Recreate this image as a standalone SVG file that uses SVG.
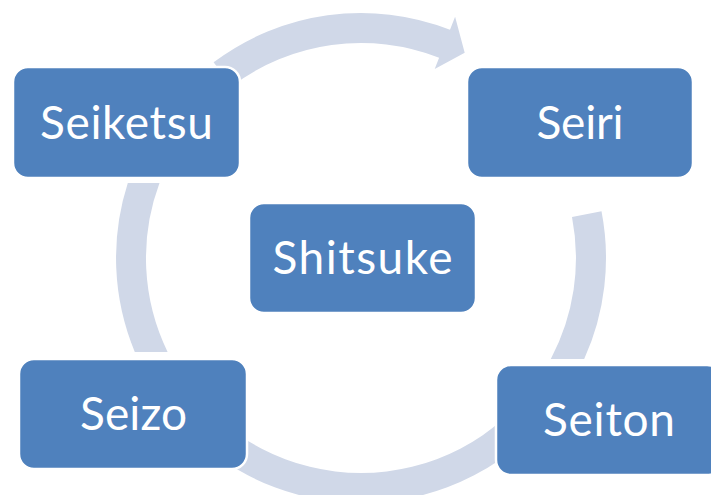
<svg xmlns="http://www.w3.org/2000/svg" width="711" height="495" viewBox="0 0 711 495">
  <style>
    .ring { fill: #D0D8E8; stroke: none; }
    .box { fill: #4F81BD; stroke: #FFFFFF; stroke-width: 2.5; }
    .label { fill: #FFFFFF; font-family: Lato, "Liberation Sans", sans-serif; font-size: 46px; text-anchor: middle; }
  </style>
  <rect width="711" height="495" fill="#FFFFFF"/>

  <!-- cycle ring segments, centre (361,258), radii 215..245 -->
  <g id="connectors">
    <!-- Seiketsu to Seiri, with arrowhead -->
    <path id="arrow-top" class="ring" d="M 213.6,62.3 A 245 245 0 0 1 450.0,29.7 L 455.1,16.7 L 464.7,52.7 L 434.7,68.9 L 439.1,57.7 A 215 215 0 0 0 231.6,86.3 Z"/>
    <!-- Seiri to Seiton -->
    <path id="arc-right" class="ring" d="M 601.5,211.3 A 245 245 0 0 1 584.2,359 L 550.8,359 A 215 215 0 0 0 572.0,217.0 Z"/>
    <!-- Seiton to Seizo -->
    <path id="arc-bottom" class="ring" d="M 561.7,398.5 A 245 245 0 0 1 160.3,398.5 L 184.9,381.3 A 215 215 0 0 0 537.1,381.3 Z"/>
    <!-- Seizo to Seiketsu -->
    <path id="arc-left" class="ring" d="M 134.8,352 A 245 245 0 0 1 127.8,183 L 159.5,183 A 215 215 0 0 0 167.6,352 Z"/>
  </g>

  <g id="node-seiketsu">
    <rect class="box" x="13" y="67" width="227" height="111" rx="15"/>
    <text class="label" x="126.5" y="139" textLength="173">Seiketsu</text>
  </g>
  <g id="node-seiri">
    <rect class="box" x="467" y="67" width="226" height="111" rx="15"/>
    <text class="label" x="580" y="139" textLength="87">Seiri</text>
  </g>
  <g id="node-seiton">
    <rect class="box" x="496" y="365" width="226" height="110" rx="15"/>
    <text class="label" x="609" y="436" textLength="132">Seiton</text>
  </g>
  <g id="node-seizo">
    <rect class="box" x="19" y="359" width="228" height="110" rx="15"/>
    <text class="label" x="133.5" y="430" textLength="107">Seizo</text>
  </g>
  <g id="node-shitsuke">
    <rect class="box" x="249" y="203" width="227" height="110" rx="15"/>
    <text class="label" x="362.5" y="274" textLength="180">Shitsuke</text>
  </g>
</svg>
